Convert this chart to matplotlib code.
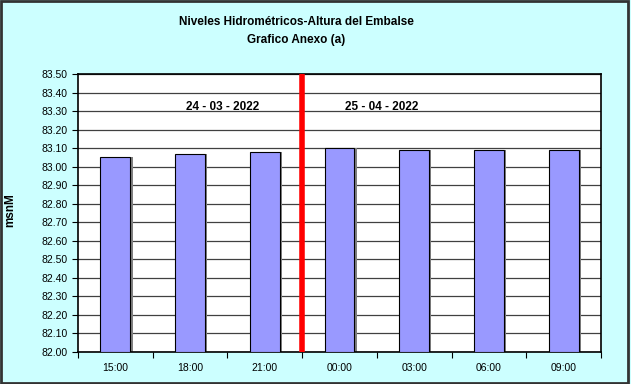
import numpy as np
import matplotlib.pyplot as plt
from matplotlib.patches import Rectangle

plt.rcParams['font.family'] = ['Liberation Sans', 'DejaVu Sans']

horas = ['15:00', '18:00', '21:00', '00:00', '03:00', '06:00', '09:00']
niveles = [83.05, 83.07, 83.08, 83.10, 83.09, 83.09, 83.09]
fechas = ['24 - 03 - 2022', '25 - 04 - 2022']

fig = plt.figure(figsize=(6.31, 3.84), dpi=100, facecolor='#CCFFFF')
ax = fig.add_axes([0.1236, 0.0833, 0.8289, 0.724])
ax.set_facecolor('white')

x = np.arange(len(horas))
# sombra de las barras
ax.bar(x + 0.03, np.array(niveles) - 82.0, bottom=82.0, width=0.4,
       color='#808080', zorder=2)
ax.bar(x, np.array(niveles) - 82.0, bottom=82.0, width=0.4,
       color='#9999FF', edgecolor='black', linewidth=0.8, zorder=3)

# linea de cambio de dia
ax.axvline(2.5, color='red', linewidth=4, zorder=4)

ax.text(1.44, 83.32, fechas[0], ha='center', va='center', fontsize=8.5,
        fontweight='bold')
ax.text(3.57, 83.32, fechas[1], ha='center', va='center', fontsize=8.5,
        fontweight='bold')

ax.set_xlim(-0.5, len(horas) - 0.5)
ax.set_ylim(82.0, 83.5)
ax.set_yticks(np.arange(82.0, 83.51, 0.1))
ax.set_yticklabels([f'{v:.2f}' for v in np.arange(82.0, 83.51, 0.1)])
ax.yaxis.grid(True, color='#404040', linewidth=0.9)
ax.set_axisbelow(True)

ax.set_xticks(x)
ax.set_xticklabels(horas)
ax.set_xticks(np.arange(-0.5, len(horas)), minor=True)
ax.tick_params(axis='x', which='major', length=0, pad=8, labelsize=7.5)
ax.tick_params(axis='x', which='minor', length=4, direction='out', width=0.8)
ax.tick_params(axis='y', length=4, direction='out', labelsize=7.5, width=0.8)

for s in ax.spines.values():
    s.set_linewidth(1.2)

fig.text(0.017, 0.453, 'msnM', rotation=90, ha='center', va='center',
         fontsize=8.5, fontweight='bold')

fig.text(0.469, 0.943, 'Niveles Hidrométricos-Altura del Embalse',
         ha='center', va='center', fontsize=8.5, fontweight='bold')
fig.text(0.469, 0.896, 'Grafico Anexo (a)',
         ha='center', va='center', fontsize=8.5, fontweight='bold')

fig.patches.append(Rectangle((0.002, 0.003), 0.994, 0.994,
                             transform=fig.transFigure, fill=False,
                             edgecolor='#333333', linewidth=2))

fig.savefig('out.png', dpi=100, facecolor=fig.get_facecolor())
